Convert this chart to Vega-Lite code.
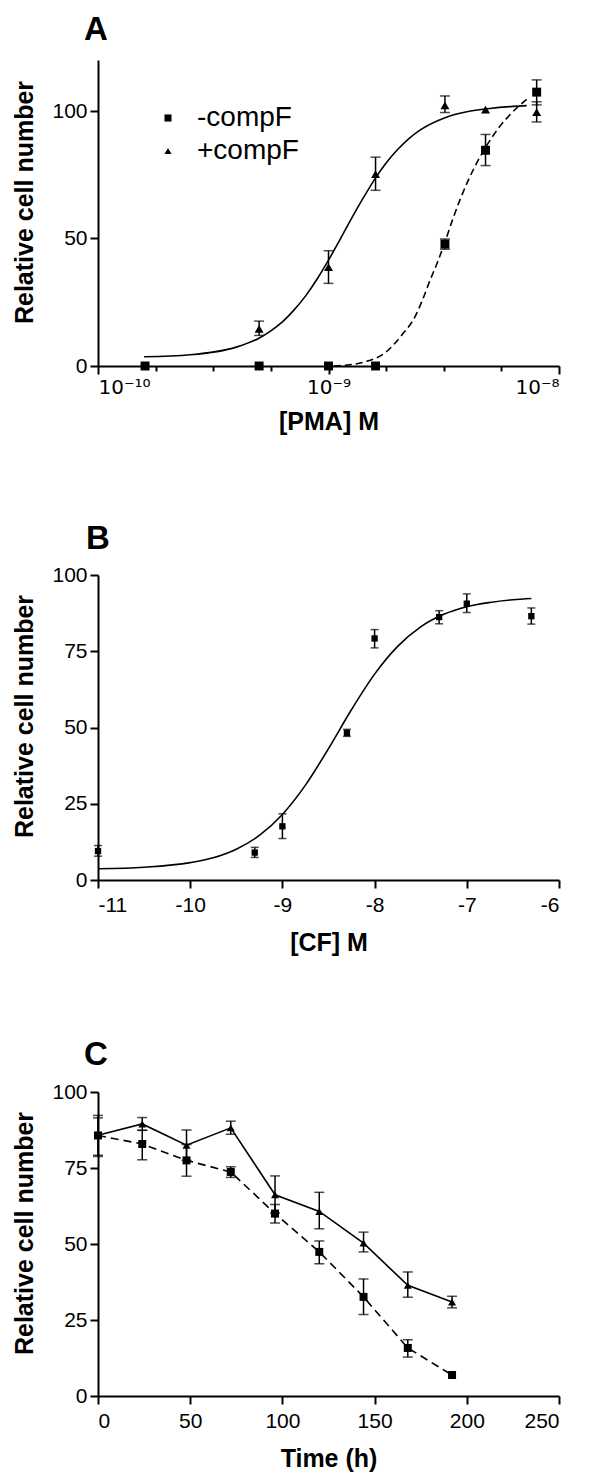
{
  "$schema": "https://vega.github.io/schema/vega-lite/v6.json",
  "background": "white",
  "padding": {"left": 12, "top": 14, "right": 5, "bottom": 5},
  "spacing": 89,
  "config": {
    "view": {"stroke": null},
    "font": "Liberation Sans",
    "axis": {"domainColor": "black", "domainWidth": 2, "tickColor": "black", "tickWidth": 2, "tickSize": 8, "labelFont": "Liberation Sans", "labelFontSize": 21, "labelColor": "black", "labelPadding": 3, "titleFont": "Liberation Sans", "titleFontSize": 25, "titleFontWeight": "bold", "titleColor": "black", "grid": false},
    "title": {"font": "Liberation Sans", "fontSize": 33, "fontWeight": "bold", "color": "black", "anchor": "start", "frame": "group"},
    "legend": {"labelFont": "Liberation Sans", "labelFontSize": 28, "labelColor": "black"}
  },
  "datasets": {
    "ptsA": [
      {"x": 1.6e-10, "y": 0, "lo": 0, "hi": 0, "s": "-compF"},
      {"x": 5e-10, "y": 0, "lo": 0, "hi": 0, "s": "-compF"},
      {"x": 1e-9, "y": 0, "lo": 0, "hi": 0, "s": "-compF"},
      {"x": 1.6e-9, "y": 0, "lo": 0, "hi": 0, "s": "-compF"},
      {"x": 3.2e-9, "y": 47.8, "lo": 45.8, "hi": 49.8, "s": "-compF"},
      {"x": 4.8e-9, "y": 84.6, "lo": 78.6, "hi": 90.8, "s": "-compF"},
      {"x": 8e-9, "y": 107.4, "lo": 102.4, "hi": 112.2, "s": "-compF"},
      {"x": 5e-10, "y": 14.6, "lo": 12.0, "hi": 17.6, "s": "+compF"},
      {"x": 1e-9, "y": 38.8, "lo": 32.4, "hi": 45.2, "s": "+compF"},
      {"x": 1.6e-9, "y": 75.2, "lo": 68.9, "hi": 81.9, "s": "+compF"},
      {"x": 3.2e-9, "y": 102.2, "lo": 99.4, "hi": 105.9, "s": "+compF"},
      {"x": 4.8e-9, "y": 100.5, "lo": 100.5, "hi": 100.5, "s": "+compF"},
      {"x": 8e-9, "y": 99.6, "lo": 95.7, "hi": 103.6, "s": "+compF"}
    ],
    "curveA": [
      {"x": 1.585e-10, "y": 3.6, "s": "+compF"},
      {"x": 2.512e-10, "y": 4.4, "s": "+compF"},
      {"x": 3.981e-10, "y": 7.4, "s": "+compF"},
      {"x": 5.012e-10, "y": 11.0, "s": "+compF"},
      {"x": 5.623e-10, "y": 13.8, "s": "+compF"},
      {"x": 6.31e-10, "y": 17.3, "s": "+compF"},
      {"x": 7.079e-10, "y": 21.9, "s": "+compF"},
      {"x": 7.943e-10, "y": 27.4, "s": "+compF"},
      {"x": 8.913e-10, "y": 34.0, "s": "+compF"},
      {"x": 1e-9, "y": 41.5, "s": "+compF"},
      {"x": 1.122e-9, "y": 49.6, "s": "+compF"},
      {"x": 1.259e-9, "y": 57.9, "s": "+compF"},
      {"x": 1.413e-9, "y": 65.8, "s": "+compF"},
      {"x": 1.585e-9, "y": 73.2, "s": "+compF"},
      {"x": 1.778e-9, "y": 79.6, "s": "+compF"},
      {"x": 1.995e-9, "y": 84.9, "s": "+compF"},
      {"x": 2.239e-9, "y": 89.3, "s": "+compF"},
      {"x": 2.512e-9, "y": 92.7, "s": "+compF"},
      {"x": 3.162e-9, "y": 97.2, "s": "+compF"},
      {"x": 3.981e-9, "y": 99.7, "s": "+compF"},
      {"x": 5.012e-9, "y": 101.0, "s": "+compF"},
      {"x": 6.31e-9, "y": 101.8, "s": "+compF"},
      {"x": 7.244e-9, "y": 102.1, "s": "+compF"},
      {"x": 1.055e-9, "y": 0, "s": "-compF"},
      {"x": 1.184e-9, "y": 0.3, "s": "-compF"},
      {"x": 1.435e-9, "y": 1.6, "s": "-compF"},
      {"x": 1.738e-9, "y": 4.8, "s": "-compF"},
      {"x": 2.105e-9, "y": 12.7, "s": "-compF"},
      {"x": 2.362e-9, "y": 19.0, "s": "-compF"},
      {"x": 2.552e-9, "y": 25.7, "s": "-compF"},
      {"x": 2.754e-9, "y": 33.5, "s": "-compF"},
      {"x": 2.973e-9, "y": 40.8, "s": "-compF"},
      {"x": 3.211e-9, "y": 49.0, "s": "-compF"},
      {"x": 3.467e-9, "y": 57.8, "s": "-compF"},
      {"x": 3.743e-9, "y": 65.8, "s": "-compF"},
      {"x": 4.043e-9, "y": 72.9, "s": "-compF"},
      {"x": 4.45e-9, "y": 80.5, "s": "-compF"},
      {"x": 4.9e-9, "y": 87.0, "s": "-compF"},
      {"x": 5.5e-9, "y": 93.6, "s": "-compF"},
      {"x": 6.17e-9, "y": 98.8, "s": "-compF"},
      {"x": 7.33e-9, "y": 105.0, "s": "-compF"}
    ],
    "ptsB": [
      {"x": -11, "y": 9.5, "lo": 7.8, "hi": 11.3},
      {"x": -9.3, "y": 9.0, "lo": 7.4, "hi": 10.7},
      {"x": -9, "y": 17.6, "lo": 13.6, "hi": 21.7},
      {"x": -8.3, "y": 48.2, "lo": 47.1, "hi": 49.4},
      {"x": -8, "y": 79.2, "lo": 76.1, "hi": 82.1},
      {"x": -7.3, "y": 86.2, "lo": 84.0, "hi": 88.3},
      {"x": -7, "y": 90.6, "lo": 87.7, "hi": 93.8},
      {"x": -6.3, "y": 86.5, "lo": 83.9, "hi": 89.2}
    ],
    "curveB": [
      {"x": -11, "y": 3.7},
      {"x": -10.5, "y": 4.2},
      {"x": -10, "y": 5.7},
      {"x": -9.75, "y": 7.3},
      {"x": -9.5, "y": 10.1},
      {"x": -9.25, "y": 14.6},
      {"x": -9, "y": 21.5},
      {"x": -8.75, "y": 31.1},
      {"x": -8.5, "y": 43.1},
      {"x": -8.25, "y": 55.9},
      {"x": -8, "y": 67.5},
      {"x": -7.75, "y": 76.6},
      {"x": -7.5, "y": 83.0},
      {"x": -7.25, "y": 87.1},
      {"x": -7, "y": 89.6},
      {"x": -6.75, "y": 91.0},
      {"x": -6.5, "y": 91.9},
      {"x": -6.3, "y": 92.3}
    ],
    "ptsC": [
      {"x": 0, "y": 85.8, "lo": 79.2, "hi": 92.3, "s": "+compF"},
      {"x": 24, "y": 89.5, "lo": 87.4, "hi": 91.6, "s": "+compF"},
      {"x": 48, "y": 82.5, "lo": 77.5, "hi": 87.5, "s": "+compF"},
      {"x": 72, "y": 88.2, "lo": 86.1, "hi": 90.4, "s": "+compF"},
      {"x": 96, "y": 66.2, "lo": 60.2, "hi": 72.4, "s": "+compF"},
      {"x": 120, "y": 60.7, "lo": 55.0, "hi": 67.0, "s": "+compF"},
      {"x": 144, "y": 50.3, "lo": 47.4, "hi": 53.9, "s": "+compF"},
      {"x": 168, "y": 36.4, "lo": 32.5, "hi": 40.8, "s": "+compF"},
      {"x": 192, "y": 30.9, "lo": 29.0, "hi": 32.8, "s": "+compF"},
      {"x": 0, "y": 85.7, "lo": 78.8, "hi": 91.5, "s": "-compF"},
      {"x": 24, "y": 82.9, "lo": 77.7, "hi": 87.4, "s": "-compF"},
      {"x": 48, "y": 77.5, "lo": 72.3, "hi": 82.7, "s": "-compF"},
      {"x": 72, "y": 73.7, "lo": 71.9, "hi": 75.4, "s": "-compF"},
      {"x": 96, "y": 60.0, "lo": 56.9, "hi": 63.0, "s": "-compF"},
      {"x": 120, "y": 47.4, "lo": 43.5, "hi": 51.0, "s": "-compF"},
      {"x": 144, "y": 32.6, "lo": 26.8, "hi": 38.5, "s": "-compF"},
      {"x": 168, "y": 15.8, "lo": 12.8, "hi": 18.5, "s": "-compF"},
      {"x": 192, "y": 6.9, "lo": 6.9, "hi": 6.9, "s": "-compF"}
    ]
  },
  "vconcat": [
    {
      "width": 461,
      "height": 306,
      "title": {"text": "A", "dx": -14, "offset": 13},
      "encoding": {
        "x": {"field": "x", "type": "quantitative", "scale": {"type": "log", "domain": [1e-10, 1e-8], "nice": false},
          "axis": {"title": "[PMA] M", "values": [1e-10, 1.778e-10, 3.162e-10, 5.623e-10, 1e-9, 1.778e-9, 3.162e-9, 5.623e-9, 1e-8],
            "labelExpr": "datum.value==1e-10?'10⁻¹⁰':datum.value==1e-9?'10⁻⁹':datum.value==1e-8?'10⁻⁸':''",
            "labelFont": "DejaVu Sans", "labelFontSize": 20,
            "tickSize": {"condition": {"test": "datum.value==1e-10||datum.value==1e-9||datum.value==1e-8", "value": 8}, "value": 5},
            "titlePadding": 12}}
      },
      "layer": [
        {
          "data": {"name": "curveA"},
          "transform": [{"filter": "datum.s == '+compF'"}],
          "mark": {"type": "line", "color": "black", "strokeWidth": 1.6, "interpolate": "monotone"},
          "encoding": {
            "y": {"field": "y", "type": "quantitative", "scale": {"domain": [0, 120], "nice": false},
              "axis": {"title": "Relative cell number", "values": [0, 50, 100], "titlePadding": 14, "titleY": 142}}
          }
        },
        {
          "data": {"name": "curveA"},
          "transform": [{"filter": "datum.s == '-compF'"}],
          "mark": {"type": "line", "color": "black", "strokeWidth": 1.6, "interpolate": "monotone", "strokeDash": [7, 4]},
          "encoding": {
            "y": {"field": "y", "type": "quantitative", "title": "Relative cell number"}
          }
        },
        {
          "data": {"name": "ptsA"},
          "transform": [{"filter": "datum.hi > datum.lo"}],
          "mark": {"type": "errorbar", "color": "black", "ticks": {"size": 10, "color": "black", "thickness": 1.5}, "rule": {"strokeWidth": 1.5}},
          "encoding": {
            "y": {"field": "lo", "type": "quantitative", "title": "Relative cell number"},
            "y2": {"field": "hi"},
            "detail": {"field": "s"}
          }
        },
        {
          "data": {"name": "ptsA"},
          "mark": {"type": "point", "filled": true, "color": "black", "opacity": 1, "size": 80},
          "encoding": {
            "y": {"field": "y", "type": "quantitative", "title": "Relative cell number"},
            "shape": {"field": "s", "type": "nominal", "scale": {"domain": ["-compF", "+compF"], "range": ["square", "triangle-up"]},
              "legend": {"title": null, "orient": "none", "legendX": 56, "legendY": 44, "symbolSize": 50, "symbolFillColor": "black", "symbolStrokeColor": "black", "labelFontSize": 28, "labelOffset": 15, "rowPadding": 5, "padding": 0}}
          }
        }
      ]
    },
    {
      "spacing": 84,
      "vconcat": [
        {
          "width": 461,
          "height": 305,
          "title": {"text": "B", "dx": -12, "offset": 8},
          "encoding": {
            "x": {"field": "x", "type": "quantitative", "scale": {"domain": [-11, -6], "nice": false},
              "axis": {"title": "[CF] M", "values": [-11, -10, -9, -8, -7, -6], "labelExpr": "datum.value + ''", "labelPadding": 6, "titlePadding": 15}}
          },
          "layer": [
            {
              "data": {"name": "curveB"},
              "mark": {"type": "line", "color": "black", "strokeWidth": 1.6, "interpolate": "monotone"},
              "encoding": {
                "y": {"field": "y", "type": "quantitative", "scale": {"domain": [0, 100], "nice": false},
                  "axis": {"title": "Relative cell number", "values": [0, 25, 50, 75, 100], "titlePadding": 14, "titleY": 141}}
              }
            },
            {
              "data": {"name": "ptsB"},
              "mark": {"type": "errorbar", "color": "black", "ticks": {"size": 8, "color": "black", "thickness": 1.5}, "rule": {"strokeWidth": 1.5}},
              "encoding": {
                "y": {"field": "lo", "type": "quantitative", "title": "Relative cell number"},
                "y2": {"field": "hi"}
              }
            },
            {
              "data": {"name": "ptsB"},
              "mark": {"type": "point", "filled": true, "color": "black", "opacity": 1, "size": 40, "shape": "square"},
              "encoding": {
                "y": {"field": "y", "type": "quantitative", "title": "Relative cell number"}
              }
            }
          ]
        },
        {
          "width": 461,
          "height": 304,
          "title": {"text": "C", "dx": -14, "offset": 9},
          "encoding": {
            "x": {"field": "x", "type": "quantitative", "scale": {"domain": [0, 250], "nice": false},
              "axis": {"title": "Time (h)", "values": [0, 50, 100, 150, 200, 250], "labelPadding": 6, "titlePadding": 15}}
          },
          "layer": [
            {
              "data": {"name": "ptsC"},
              "transform": [{"filter": "datum.s == '+compF'"}],
              "mark": {"type": "line", "color": "black", "strokeWidth": 1.6},
              "encoding": {
                "y": {"field": "y", "type": "quantitative", "scale": {"domain": [0, 100], "nice": false},
                  "axis": {"title": "Relative cell number", "values": [0, 25, 50, 75, 100], "titlePadding": 14, "titleY": 141}}
              }
            },
            {
              "data": {"name": "ptsC"},
              "transform": [{"filter": "datum.s == '-compF'"}],
              "mark": {"type": "line", "color": "black", "strokeWidth": 1.6, "strokeDash": [8, 5]},
              "encoding": {
                "y": {"field": "y", "type": "quantitative", "title": "Relative cell number"}
              }
            },
            {
              "data": {"name": "ptsC"},
              "transform": [{"filter": "datum.hi > datum.lo"}],
              "mark": {"type": "errorbar", "color": "black", "ticks": {"size": 10, "color": "black", "thickness": 1.5}, "rule": {"strokeWidth": 1.5}},
              "encoding": {
                "y": {"field": "lo", "type": "quantitative", "title": "Relative cell number"},
                "y2": {"field": "hi"},
                "detail": {"field": "s"}
              }
            },
            {
              "data": {"name": "ptsC"},
              "mark": {"type": "point", "filled": true, "color": "black", "opacity": 1, "size": 64},
              "encoding": {
                "y": {"field": "y", "type": "quantitative", "title": "Relative cell number"},
                "shape": {"field": "s", "type": "nominal", "scale": {"domain": ["-compF", "+compF"], "range": ["square", "triangle-up"]}, "legend": null}
              }
            }
          ]
        }
      ]
    }
  ]
}
